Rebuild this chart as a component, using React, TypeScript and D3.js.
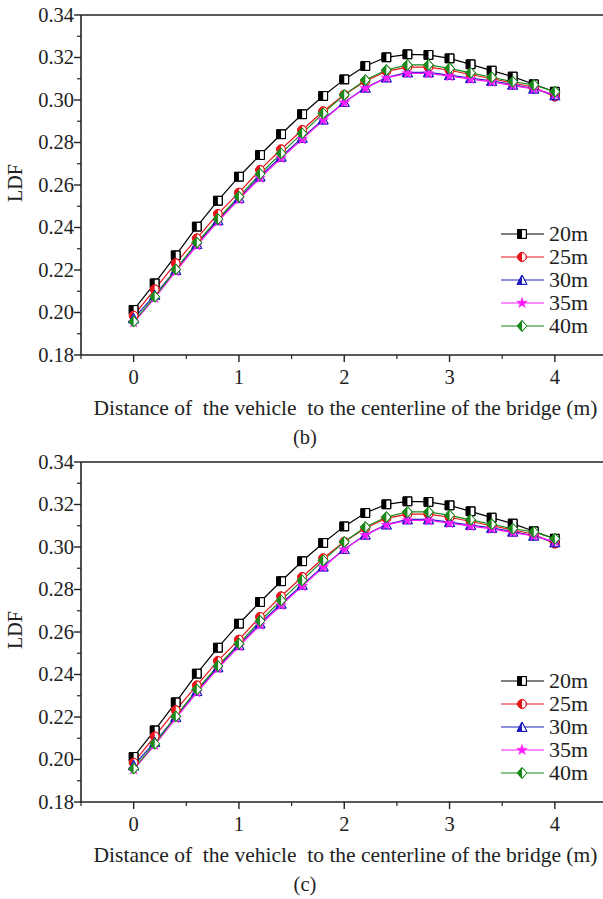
import React from "react";
import * as d3 from "d3";

const xs = [0, 0.2, 0.4, 0.6, 0.8, 1.0, 1.2, 1.4, 1.6, 1.8, 2.0, 2.2, 2.4, 2.6, 2.8, 3.0, 3.2, 3.4, 3.6, 3.8, 4.0];
const s20 = [0.2012, 0.2137, 0.2269, 0.2404, 0.2526, 0.2639, 0.2741, 0.2839, 0.2933, 0.3019, 0.3097, 0.316, 0.3201, 0.3215, 0.3212, 0.3196, 0.3168, 0.3138, 0.311, 0.3074, 0.3039];
const s25 = [0.1985, 0.2109, 0.2232, 0.2349, 0.2464, 0.2564, 0.2671, 0.2768, 0.2859, 0.2947, 0.3025, 0.3088, 0.3135, 0.3155, 0.3155, 0.314, 0.312, 0.31, 0.308, 0.306, 0.3016];
const s30 = [0.1972, 0.2082, 0.22, 0.2322, 0.2434, 0.2538, 0.264, 0.2733, 0.2822, 0.2908, 0.299, 0.3058, 0.3106, 0.313, 0.313, 0.3117, 0.3103, 0.309, 0.3072, 0.3053, 0.3022];
const s35 = [0.1953, 0.2068, 0.2193, 0.2315, 0.2428, 0.2532, 0.2633, 0.2726, 0.2815, 0.2905, 0.2988, 0.3055, 0.3104, 0.3125, 0.3125, 0.3112, 0.3098, 0.3085, 0.3068, 0.3052, 0.3025];
const s40 = [0.1957, 0.2074, 0.2203, 0.2329, 0.244, 0.2545, 0.2652, 0.2749, 0.2843, 0.2937, 0.3024, 0.3094, 0.3141, 0.3165, 0.3165, 0.3149, 0.3128, 0.3107, 0.3086, 0.3071, 0.3039];

const seriesNames = ["20m", "25m", "30m", "35m", "40m"];
const seriesData = [s20, s25, s30, s35, s40];
const seriesColors = ["#000000", "#e8141c", "#1f1fbf", "#ff1aff", "#198a19"];
const seriesMarkers = ["square", "circle", "triangle", "star", "diamond"];

const yTicks = [0.18, 0.2, 0.22, 0.24, 0.26, 0.28, 0.3, 0.32, 0.34];
const xTicks = [0, 1, 2, 3, 4];
const panelLabels = ["(b)", "(c)"];

const FONT = "'Liberation Serif', 'DejaVu Serif', serif";

function Marker({ kind, color, x, y, id }: { kind: string; color: string; x: number; y: number; id: string }) {
  const r = 4.4;
  const clipId = `clip-${id}`;
  let shape = "";
  if (kind === "square") shape = `M${-r},${-r}H${r}V${r}H${-r}Z`;
  else if (kind === "circle") shape = `M${-r},0A${r},${r} 0 1,0 ${r},0A${r},${r} 0 1,0 ${-r},0Z`;
  else if (kind === "triangle") shape = `M0,${-r - 0.6}L${r + 0.6},${r}L${-r - 0.6},${r}Z`;
  else if (kind === "diamond") shape = `M0,${-r - 1}L${r + 0.5},0L0,${r + 1}L${-r - 0.5},0Z`;
  if (kind === "star") {
    const path = d3.symbol().type(d3.symbolStar).size(34)() as string;
    return <path d={path} transform={`translate(${x},${y})`} fill={color} stroke={color} strokeWidth={0.6} />;
  }
  return (
    <g transform={`translate(${x},${y})`}>
      <path d={shape} fill="#fff" stroke={color} strokeWidth={1} />
      <path d={shape} fill={color} clipPath={`url(#${clipId})`} />
      <path d={shape} fill="none" stroke={color} strokeWidth={1} />
    </g>
  );
}

function Panel({ top, label, pid }: { top: number; label: string; pid: string }) {
  const x = d3.scaleLinear().domain([-0.5, 4.5]).range([81, 607.5]);
  const y = d3.scaleLinear().domain([0.18, 0.34]).range([top + 340, top]);
  const line = d3.line<number>().x((_, i) => x(xs[i])).y((v) => y(v));
  const minorY = d3.range(0.19, 0.34, 0.02);
  const minorX = [-0.5, 0.5, 1.5, 2.5, 3.5];
  const legendY = [top + 219, top + 242, top + 265, top + 288, top + 311];
  return (
    <g>
      <defs>
        <clipPath id={`clip-${pid}-left`} clipPathUnits="userSpaceOnUse">
          <rect x={-10} y={-10} width={10} height={20} />
        </clipPath>
      </defs>
      <line x1={x(-0.5)} x2={x(-0.5)} y1={y(0.34)} y2={y(0.18)} stroke="#222" strokeWidth={1.6} />
      <line x1={x(-0.5)} x2={603} y1={y(0.18)} y2={y(0.18)} stroke="#222" strokeWidth={1.6} />
      <line x1={x(-0.5)} x2={603} y1={y(0.34)} y2={y(0.34)} stroke="#222" strokeWidth={1.6} />
      {yTicks.map((t) => (
        <g key={`yt${t}`}>
          <line x1={x(-0.5) - 7} x2={x(-0.5)} y1={y(t)} y2={y(t)} stroke="#222" strokeWidth={1.4} />
          <text x={x(-0.5) - 7} y={y(t) + 6.5} textAnchor="end" fontFamily={FONT} fontSize={20.5} fill="#222">
            {t.toFixed(2)}
          </text>
        </g>
      ))}
      {minorY.map((t) => (
        <line key={`ym${t}`} x1={x(-0.5) - 4} x2={x(-0.5)} y1={y(t)} y2={y(t)} stroke="#222" strokeWidth={1.2} />
      ))}
      {xTicks.map((t) => (
        <g key={`xt${t}`}>
          <line x1={x(t)} x2={x(t)} y1={y(0.18)} y2={y(0.18) + 7} stroke="#222" strokeWidth={1.4} />
          <text x={x(t)} y={y(0.18) + 29} textAnchor="middle" fontFamily={FONT} fontSize={20.5} fill="#222">
            {t}
          </text>
        </g>
      ))}
      {minorX.map((t) => (
        <line key={`xm${t}`} x1={x(t)} x2={x(t)} y1={y(0.18)} y2={y(0.18) + 4} stroke="#222" strokeWidth={1.2} />
      ))}
      <text
        transform={`translate(22,${top + 168}) rotate(-90)`}
        textAnchor="middle"
        fontFamily={FONT}
        fontSize={20}
        fill="#222"
      >
        LDF
      </text>
      <text x={345.5} y={top + 400} textAnchor="middle" fontFamily={FONT} fontSize={21.5} fill="#222" style={{ whiteSpace: "pre" }}>
        {"Distance of  the vehicle  to the centerline of the bridge (m)"}
      </text>
      <text x={305} y={top + 429} textAnchor="middle" fontFamily={FONT} fontSize={20.5} fill="#222">
        {label}
      </text>
      {seriesData.map((s, si) => (
        <path key={`l${si}`} d={line(s) as string} fill="none" stroke={seriesColors[si]} strokeWidth={1.2} />
      ))}
      {seriesData.map((s, si) =>
        s.map((v, i) => (
          <Marker
            key={`m${si}-${i}`}
            kind={seriesMarkers[si]}
            color={seriesColors[si]}
            x={x(xs[i])}
            y={y(v)}
            id={`${pid}-left`}
          />
        ))
      )}
      {seriesNames.map((n, si) => (
        <g key={`lg${si}`}>
          <line x1={501} x2={544} y1={legendY[si]} y2={legendY[si]} stroke={seriesColors[si]} strokeWidth={1.2} />
          <Marker kind={seriesMarkers[si]} color={seriesColors[si]} x={522} y={legendY[si]} id={`${pid}-left`} />
          <text x={549} y={legendY[si] + 7} fontFamily={FONT} fontSize={22} fill="#222">
            {n}
          </text>
        </g>
      ))}
    </g>
  );
}

export default function App() {
  return (
    <svg
      width={603}
      height={899}
      style={{ position: "absolute", left: 0, top: 0, background: "#fff" }}
      xmlns="http://www.w3.org/2000/svg"
    >
      <rect x={0} y={0} width={603} height={899} fill="#fff" />
      <Panel top={15} label={panelLabels[0]} pid="b" />
      <Panel top={462} label={panelLabels[1]} pid="c" />
    </svg>
  );
}
